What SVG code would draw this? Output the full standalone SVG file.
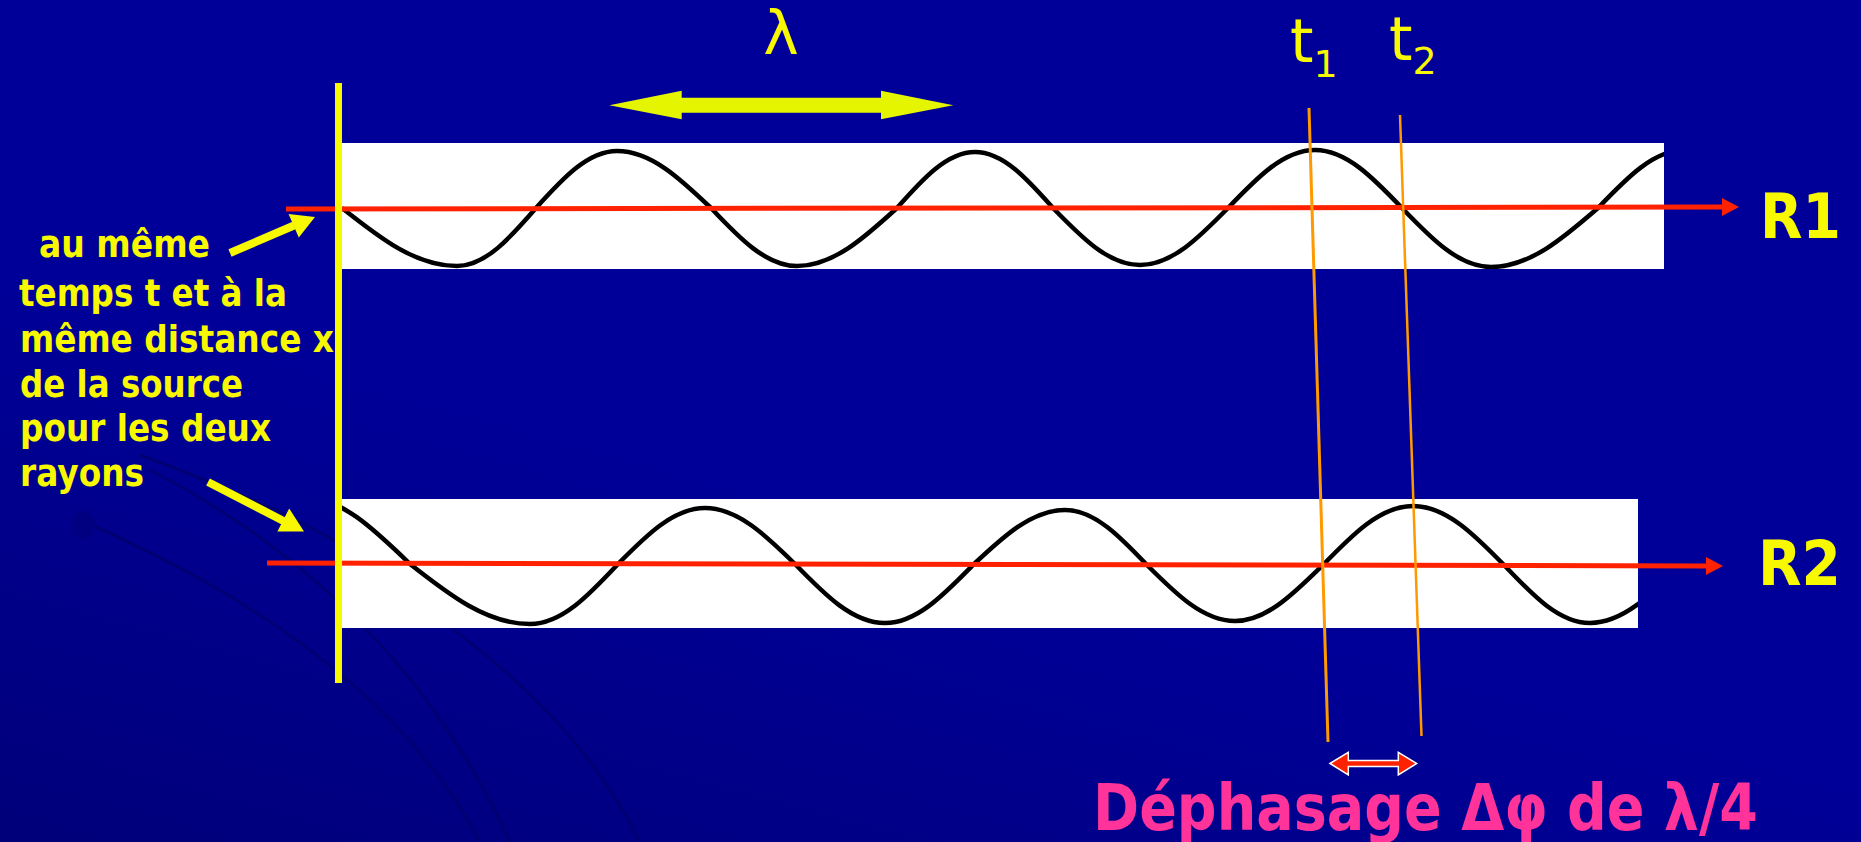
<svg xmlns="http://www.w3.org/2000/svg" width="1861" height="842" viewBox="0 0 1861 842">
<defs>
<linearGradient id="bg" x1="0" y1="1" x2="0.3" y2="0.5">
<stop offset="0" stop-color="#00007A"/>
<stop offset="1" stop-color="#000099"/>
</linearGradient>
<clipPath id="clipTop"><rect x="340" y="143" width="1324" height="126"/></clipPath>
<clipPath id="clipBot"><rect x="340" y="499" width="1298" height="129"/></clipPath>
<marker id="redHead" markerUnits="userSpaceOnUse" markerWidth="18" markerHeight="20" refX="0" refY="9" orient="auto">
<path d="M0,0 L17,9 L0,18 Z" fill="#FF2200"/>
</marker>
<style>
.band{fill:#FFFFFF}
.wave{fill:none;stroke:#000000;stroke-width:4.5;stroke-linejoin:round}
.ray{stroke:#FF2200;stroke-width:5;fill:none}
.tline{stroke:#FF9900;fill:none}
.yel{fill:#F8F800}
.lbl{font-family:"DejaVu Sans","Liberation Sans",sans-serif;font-weight:bold;font-size:38px;fill:#F8F800}
.big{font-family:"DejaVu Sans","Liberation Sans",sans-serif;font-weight:bold;font-size:63px;fill:#F8F800}
.sym{font-family:"DejaVu Sans","Liberation Sans",sans-serif;font-size:60px;fill:#F8F800}
.arc{fill:none;stroke:#000070;stroke-width:2.5}
</style>
</defs>
<rect x="0" y="0" width="1861" height="842" fill="url(#bg)"/>
<g id="decor">
<path class="arc" d="M150,470 Q400,600 510,842"/>
<path class="arc" d="M80,520 Q380,650 480,842"/>
<path class="arc" d="M440,620 Q580,720 640,842"/>
<path class="arc" d="M140,455 Q300,515 345,548"/>
<ellipse cx="83" cy="525" rx="12" ry="14" fill="#000080"/>
</g>
<g id="band-r1">
<rect class="band" x="340" y="143" width="1324" height="126"/>
<path class="wave" clip-path="url(#clipTop)" d="M342,208 C379.5,237.7 415.4,266 457,266 C485.6,266 510.2,237.7 536,208 C562.4,178.8 587.7,151 617,151 C651,151 680.4,178.8 711,208 C739,237.7 765.9,266 797,266 C833.2,266 864.4,237.7 897,208 C922.4,179.3 946.8,152 975,152 C1003.2,152 1027.6,179.3 1053,208 C1081.4,237.2 1108.5,265 1140,265 C1171.9,265 1199.3,237.2 1228,208 C1256.4,178.3 1283.5,150 1315,150 C1346.5,150 1373.6,178.3 1402,208 C1431,238.2 1458.8,267 1491,267 C1529.7,267 1563.1,238.2 1598,208 C1626.4,178.3 1653.5,150 1685,150"/>
</g>
<g id="band-r2">
<rect class="band" x="340" y="499" width="1298" height="129"/>
<path class="wave" clip-path="url(#clipBot)" d="M300,496 C339.8,496 374.1,529.2 410,564 C449.1,594.7 486.6,624 530,624 C561.9,624 589.3,594.7 618,564 C646.4,535.3 673.5,508 705,508 C737.6,508 765.7,535.3 795,564 C824.3,594.2 852.4,623 885,623 C916.9,623 944.3,594.2 973,565 C1003,536.8 1031.7,510 1065,510 C1094.7,510 1120.3,536.8 1147,565 C1175.7,593.7 1203.1,621 1235,621 C1266.5,621 1293.6,593.7 1322,566 C1351.7,535.3 1380.1,506 1413,506 C1446.3,506 1475,535.3 1505,566 C1532.7,595.2 1559.2,623 1590,623 C1622.6,623 1650.7,595.2 1680,566"/>
</g>
<g id="connectors">
<line class="ray" x1="286" y1="209" x2="1722" y2="207" marker-end="url(#redHead)"/>
<line class="ray" x1="267" y1="563" x2="1706" y2="566" marker-end="url(#redHead)"/>
<line class="tline" stroke-width="3" x1="1309" y1="108" x2="1328" y2="742"/>
<line class="tline" stroke-width="2.5" x1="1400" y1="115" x2="1421.5" y2="736"/>
<polygon points="1330,763.5 1348.3,752.3 1348.3,760.5 1398.3,760.5 1398.3,752.3 1416.7,763.5 1398.3,775 1398.3,766.5 1348.3,766.5 1348.3,775" fill="#FF2200" stroke="#FFFFFF" stroke-width="1.5" stroke-linejoin="miter"/>
<polygon style="fill:#E5F500" points="609.3,105.3 681.7,90.7 681.7,97.7 881,97.7 881,90.7 953.3,105.3 881,119.3 881,112.7 681.7,112.7 681.7,119.3"/>
<line x1="230" y1="253" x2="294" y2="225.5" stroke="#F8F800" stroke-width="8"/>
<polygon class="yel" points="315,217 298.8,237.6 288.6,214"/>
<line x1="208" y1="482" x2="284" y2="521.2" stroke="#F8F800" stroke-width="8"/>
<polygon class="yel" points="304,531.5 277.4,531.6 289.2,508.6"/>
</g>
<g id="note">
<text class="lbl" x="39" y="257" textLength="171" lengthAdjust="spacingAndGlyphs">au même</text>
<text class="lbl" x="19" y="306" textLength="268" lengthAdjust="spacingAndGlyphs">temps t et à la</text>
<text class="lbl" x="20" y="352" textLength="314" lengthAdjust="spacingAndGlyphs">même distance x</text>
<text class="lbl" x="20" y="397" textLength="223" lengthAdjust="spacingAndGlyphs">de la source</text>
<text class="lbl" x="20" y="441" textLength="251" lengthAdjust="spacingAndGlyphs">pour les deux</text>
<text class="lbl" x="20" y="486" textLength="124" lengthAdjust="spacingAndGlyphs">rayons</text>
</g>
<g id="source-line">
<rect x="335" y="83" width="7" height="600" fill="#F8F800"/>
</g>
<g id="labels">
<text class="sym" x="781" y="54" text-anchor="middle" font-size="58">λ</text>
<text class="sym" x="1290" y="62">t<tspan font-size="38" y="77">1</tspan></text>
<text class="sym" x="1389" y="60">t<tspan font-size="38" y="74">2</tspan></text>
<text class="big" x="1760" y="238" textLength="81" lengthAdjust="spacingAndGlyphs">R1</text>
<text class="big" x="1758" y="585" textLength="83" lengthAdjust="spacingAndGlyphs">R2</text>
<text x="1093" y="830" textLength="665" lengthAdjust="spacingAndGlyphs" style="font-family:'DejaVu Sans','Liberation Sans',sans-serif;font-weight:bold;font-size:64px;fill:#FF3399">Déphasage Δφ de λ/4</text>
</g>
</svg>
